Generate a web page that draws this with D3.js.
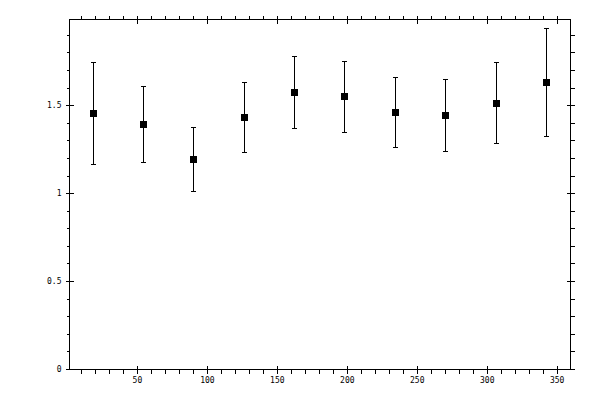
<!DOCTYPE html>
<html>
<head>
<meta charset="utf-8">
<script src="https://cdn.jsdelivr.net/npm/d3@7"></script>
<style>
  body { margin: 0; background: #fff; }
  svg { display: block; }
  .tick text { font-family: "DejaVu Sans Mono", monospace; font-size: 8px; fill: #000; }
  .tick line { stroke: #000; }
</style>
</head>
<body>
<div id="chart-container"></div>
<script>
// data
let xValues = [18, 54, 90, 126, 162, 198, 234, 270, 306, 342];
let yValues = [1.458, 1.396, 1.196, 1.435, 1.578, 1.555, 1.464, 1.447, 1.515, 1.635];
let yUpper = [1.748, 1.612, 1.378, 1.635, 1.783, 1.754, 1.663, 1.652, 1.748, 1.942];
let yLower = [1.168, 1.179, 1.014, 1.236, 1.373, 1.350, 1.265, 1.242, 1.287, 1.327];

let xMajor = [50, 100, 150, 200, 250, 300, 350];
let xMinor = d3.range(10, 360, 10);
let yMajor = [0, 0.5, 1, 1.5];
let yMinor = d3.range(1, 20).map((d) => d / 10);

let width = 600;
let height = 400;

let svg = d3
  .select("#chart-container")
  .append("svg")
  .attr("width", width)
  .attr("height", height)
  .attr("shape-rendering", "crispEdges");

let xScale = d3.scaleLinear().domain([1.5, 359.5]).range([69.5, 570.5]);
let yScale = d3.scaleLinear().domain([0, 1.99]).range([369.5, 19.5]);

let plotLeft = xScale.range()[0];
let plotRight = xScale.range()[1];
let plotBottom = yScale.range()[0];
let plotTop = yScale.range()[1];

// helper: draws one set of ticks
function addAxis(axis, tx, ty) {
  let g = svg
    .append("g")
    .attr("transform", "translate(" + tx + "," + ty + ")")
    .call(axis.offset(0));
  g.select(".domain").remove();
  return g;
}

// bottom axis
addAxis(d3.axisBottom(xScale).tickValues(xMinor).tickSize(4).tickFormat(""), 0, plotBottom);
addAxis(d3.axisBottom(xScale).tickValues(xMajor).tickSize(-4).tickFormat(""), 0, plotBottom);
addAxis(d3.axisBottom(xScale).tickValues(xMajor).tickSize(4).tickPadding(4).tickFormat(d3.format("d")), 0, plotBottom);

// top axis
addAxis(d3.axisTop(xScale).tickValues(xMinor).tickSize(4).tickFormat(""), 0, plotTop);
addAxis(d3.axisTop(xScale).tickValues(xMajor).tickSize(-4).tickFormat(""), 0, plotTop);

// left axis
addAxis(d3.axisLeft(yScale).tickValues(yMinor).tickSize(3).tickFormat(""), plotLeft, 0);
addAxis(d3.axisLeft(yScale).tickValues(yMajor).tickSize(-4).tickFormat(""), plotLeft, 0);
addAxis(d3.axisLeft(yScale).tickValues(yMajor).tickSize(4).tickPadding(4).tickFormat((d) => d), plotLeft, 0);

// right axis
addAxis(d3.axisRight(yScale).tickValues(yMinor).tickSize(4).tickFormat(""), plotRight, 0);
addAxis(d3.axisRight(yScale).tickValues(yMajor).tickSize(-4).tickFormat(""), plotRight, 0);
addAxis(d3.axisRight(yScale).tickValues(yMajor).tickSize(4).tickFormat(""), plotRight, 0);

// frame
svg
  .append("rect")
  .attr("x", plotLeft)
  .attr("y", plotTop)
  .attr("width", plotRight - plotLeft)
  .attr("height", plotBottom - plotTop)
  .attr("fill", "none")
  .attr("stroke", "#000");

let points = xValues.map((x, i) => ({ x: x, y: yValues[i], hi: yUpper[i], lo: yLower[i] }));

// error bars
let bars = svg.append("g").attr("stroke", "#000").attr("stroke-width", 1);

bars
  .selectAll(".err")
  .data(points)
  .enter()
  .append("line")
  .attr("class", "err")
  .attr("x1", (d) => Math.round(xScale(d.x)) + 0.5)
  .attr("x2", (d) => Math.round(xScale(d.x)) + 0.5)
  .attr("y1", (d) => yScale(d.hi))
  .attr("y2", (d) => yScale(d.lo));

bars
  .selectAll(".cap-hi")
  .data(points)
  .enter()
  .append("line")
  .attr("class", "cap-hi")
  .attr("x1", (d) => Math.round(xScale(d.x)) - 2)
  .attr("x2", (d) => Math.round(xScale(d.x)) + 3)
  .attr("y1", (d) => Math.round(yScale(d.hi)) + 0.5)
  .attr("y2", (d) => Math.round(yScale(d.hi)) + 0.5);

bars
  .selectAll(".cap-lo")
  .data(points)
  .enter()
  .append("line")
  .attr("class", "cap-lo")
  .attr("x1", (d) => Math.round(xScale(d.x)) - 2)
  .attr("x2", (d) => Math.round(xScale(d.x)) + 3)
  .attr("y1", (d) => Math.round(yScale(d.lo)) + 0.5)
  .attr("y2", (d) => Math.round(yScale(d.lo)) + 0.5);

// square markers
svg
  .append("g")
  .selectAll(".dot")
  .data(points)
  .enter()
  .append("rect")
  .attr("class", "dot")
  .attr("x", (d) => Math.round(xScale(d.x)) - 3)
  .attr("y", (d) => Math.round(yScale(d.y)) - 3)
  .attr("width", 7)
  .attr("height", 7)
  .attr("fill", "#000");
</script>
</body>
</html>
